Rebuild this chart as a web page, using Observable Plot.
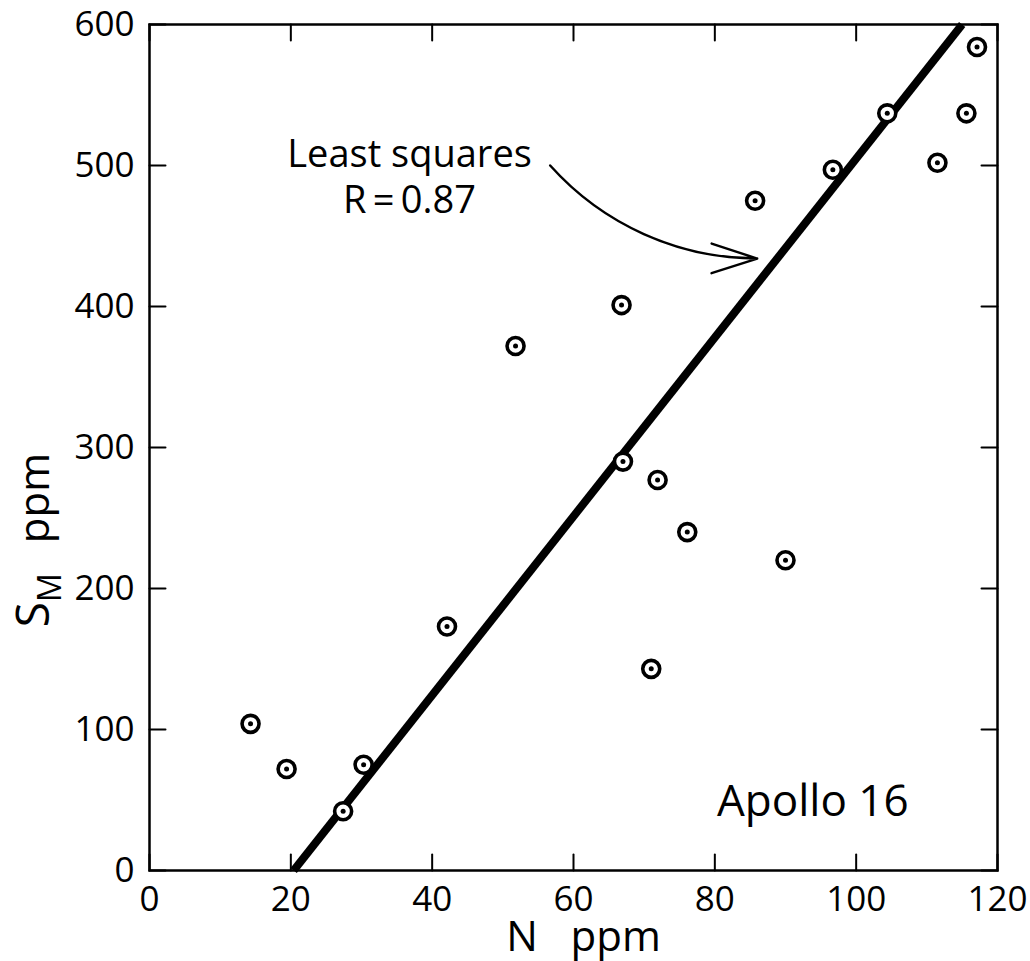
<!DOCTYPE html>
<html><head><meta charset="utf-8">
<script src="https://cdn.jsdelivr.net/npm/d3@7"></script>
<script src="https://cdn.jsdelivr.net/npm/@observablehq/plot@0.6"></script>
<style>body{margin:0;background:#fff}</style>
</head><body><div id="chart"></div>
<script>
// Data: N (ppm) vs S_M (ppm), Apollo 16
const nValues  = [14.3, 19.4, 27.4, 30.3, 42.1, 51.8, 66.8, 67.0, 71.9, 76.1, 71.0, 90.0, 85.7, 96.7, 104.4, 111.5, 115.6, 117.1];
const smValues = [104, 72, 42, 75, 173, 372, 401, 290, 277, 240, 143, 220, 475, 497, 537, 502, 537, 584];
// Least squares line
const fitN  = [20.4, 115.0];
const fitSM = [0, 600];
// Tick values
const xTicks = [0, 20, 40, 60, 80, 100, 120];
const yTicks = [0, 100, 200, 300, 400, 500, 600];
// Annotations
const fitLabel = ["Least squares\nR\u2009=\u20090.87"];
const fitLabelPos = [36.8, 466];
const arrowFrom = [56.7, 500];
const arrowTo = [86.0, 434];
const missionLabel = ["Apollo 16"];
const missionLabelPos = [80.3, 39];

const points = nValues.map((n, i) => ({n, sm: smValues[i]}));
const fitLine = fitN.map((n, i) => ({n, sm: fitSM[i]}));

const FONT = "Open Sans";
const tickShape = {draw(ctx, l) { ctx.moveTo(0, 0); ctx.lineTo(0, -l); }};
const tickOpts = {length: 16, anchor: "start", shape: tickShape, stroke: "black", strokeWidth: 2};

const plot = Plot.plot({
  width: 1030,
  height: 961,
  marginTop: 24,
  marginBottom: 91,
  marginLeft: 149,
  marginRight: 33,
  style: {fontFamily: FONT, background: "white", color: "black"},
  x: {domain: [0, 120]},
  y: {domain: [0, 600]},
  marks: [
    Plot.frame({stroke: "black", strokeWidth: 2.5}),
    Plot.vector(xTicks, {x: d => d, frameAnchor: "bottom", rotate: 0, ...tickOpts}),
    Plot.vector(xTicks, {x: d => d, frameAnchor: "top", rotate: 180, ...tickOpts}),
    Plot.vector(yTicks, {y: d => d, frameAnchor: "left", rotate: 90, ...tickOpts}),
    Plot.vector(yTicks, {y: d => d, frameAnchor: "right", rotate: -90, ...tickOpts}),
    Plot.axisX({ticks: xTicks, tickSize: 0, tickPadding: 16, fontSize: 35, label: null, tickFormat: d => String(d)}),
    Plot.axisY({ticks: yTicks, tickSize: 0, tickPadding: 15, fontSize: 35, label: null, tickFormat: d => String(d)}),
    Plot.line(fitLine, {x: "n", y: "sm", stroke: "black", strokeWidth: 8, strokeLinecap: "butt"}),
    Plot.dot(points, {x: "n", y: "sm", r: 8.5, stroke: "black", strokeWidth: 3.6, fill: "white"}),
    Plot.dot(points, {x: "n", y: "sm", r: 2.5, fill: "black"}),
    Plot.arrow([0], {x1: arrowFrom[0], y1: arrowFrom[1], x2: arrowTo[0], y2: arrowTo[1],
      bend: -24, stroke: "black", strokeWidth: 2.4, headLength: 30, headAngle: 36}),
    Plot.text(fitLabel, {x: fitLabelPos[0], y: fitLabelPos[1], text: d => d, fontSize: 38, lineHeight: 1.22,
      lineAnchor: "bottom", textAnchor: "middle", fill: "black", fontFamily: FONT}),
    Plot.text(missionLabel, {x: missionLabelPos[0], y: missionLabelPos[1], text: d => d, fontSize: 44,
      lineAnchor: "bottom", textAnchor: "start", fill: "black", fontFamily: FONT}),
    Plot.text(["N\u00a0\u00a0\u00a0ppm"], {frameAnchor: "bottom", text: d => d, dx: 10, dy: 80, fontSize: 42,
      lineAnchor: "bottom", fill: "black", fontFamily: FONT})
  ]
});

document.getElementById("chart").appendChild(plot);

// y-axis label with subscript
const svg = d3.select(plot);
const yl = svg.append("text")
  .attr("transform", "translate(49,540) rotate(-90)")
  .attr("font-family", FONT)
  .attr("fill", "black");
yl.append("tspan").attr("font-size", 46).text("S");
yl.append("tspan").attr("font-size", 32).attr("dy", 12).text("M");
yl.append("tspan").attr("font-size", 42).attr("dy", -12).attr("dx", 30).text("ppm");
</script>
</body></html>
